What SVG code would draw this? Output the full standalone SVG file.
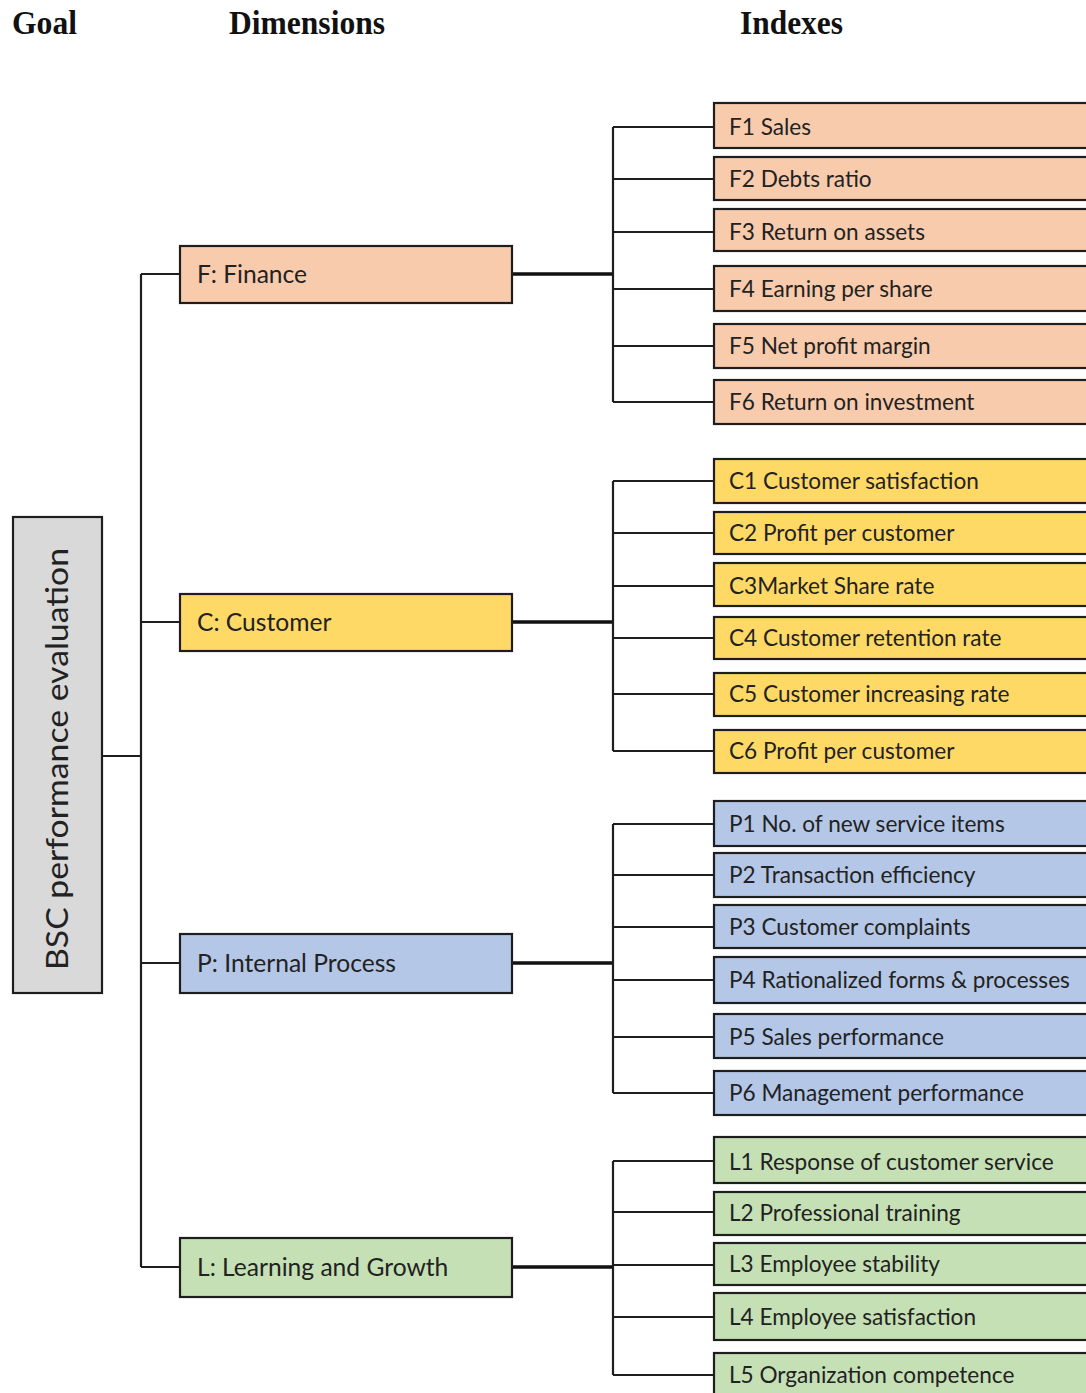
<svg xmlns="http://www.w3.org/2000/svg" width="1086" height="1393" viewBox="0 0 1086 1393">
  <style>
    .hdr { font-family: "Liberation Serif", "Times New Roman", serif; font-weight: bold; font-size: 34px; fill: #111; }
    .box { stroke: #1e1e1e; stroke-width: 2.2; }
    .goal { fill: #d9d9d9; }
    .fin { fill: #f8cbad; }
    .cus { fill: #ffd966; }
    .pro { fill: #b4c7e7; }
    .lrn { fill: #c5e0b4; }
    .lbl { font-family: Lato, "Open Sans", sans-serif; fill: #222; }
    .dim { font-size: 24.6px; }
    .idx { font-size: 22.6px; }
    .goaltxt { font-size: 30px; }
    .ln { stroke: #1e1e1e; stroke-width: 2.2; fill: none; }
    .thick { stroke: #111; stroke-width: 3.6; fill: none; }
  </style>

  <!-- column headings -->
  <g id="headings">
    <text class="hdr" x="12" y="34" textLength="65" lengthAdjust="spacingAndGlyphs">Goal</text>
    <text class="hdr" x="229" y="34" textLength="156" lengthAdjust="spacingAndGlyphs">Dimensions</text>
    <text class="hdr" x="740" y="34" textLength="103" lengthAdjust="spacingAndGlyphs">Indexes</text>
  </g>

  <!-- connectors -->
  <g id="connectors">
    <!-- goal to dimensions -->
    <path class="ln" d="M102 756 H141 M141 274 V1267 M141 274 H180 M141 622 H180 M141 963 H180 M141 1267 H180"/>
    <!-- dimensions to index bars -->
    <path class="thick" d="M512 274 H613 M512 622 H613 M512 963 H613 M512 1267 H613"/>
    <!-- finance indexes -->
    <path class="ln" d="M613 127 V402 M613 127 H714 M613 179 H714 M613 232 H714 M613 289 H714 M613 346 H714 M613 402 H714"/>
    <!-- customer indexes -->
    <path class="ln" d="M613 481 V751 M613 481 H714 M613 533 H714 M613 586 H714 M613 638 H714 M613 694 H714 M613 751 H714"/>
    <!-- internal process indexes -->
    <path class="ln" d="M613 824 V1093 M613 824 H714 M613 875 H714 M613 927 H714 M613 980 H714 M613 1037 H714 M613 1093 H714"/>
    <!-- learning indexes -->
    <path class="ln" d="M613 1161 V1375 M613 1161 H714 M613 1212 H714 M613 1265 H714 M613 1317 H714 M613 1375 H714"/>
  </g>

  <!-- goal -->
  <g id="goal">
    <rect class="box goal" x="13" y="517" width="89" height="476"/>
    <text class="lbl goaltxt" transform="translate(68 759) rotate(-90)" text-anchor="middle" textLength="422" lengthAdjust="spacingAndGlyphs">BSC performance evaluation</text>
  </g>

  <!-- dimensions -->
  <g id="dim-finance">
    <rect class="box fin" x="180" y="246" width="332" height="57"/>
    <text class="lbl dim" x="197" y="283">F: Finance</text>
  </g>
  <g id="dim-customer">
    <rect class="box cus" x="180" y="594" width="332" height="57"/>
    <text class="lbl dim" x="197" y="631">C: Customer</text>
  </g>
  <g id="dim-process">
    <rect class="box pro" x="180" y="934" width="332" height="59"/>
    <text class="lbl dim" x="197" y="972">P: Internal Process</text>
  </g>
  <g id="dim-learning">
    <rect class="box lrn" x="180" y="1238" width="332" height="59"/>
    <text class="lbl dim" x="197" y="1276">L: Learning and Growth</text>
  </g>

  <!-- finance indexes -->
  <g id="idx-f1"><rect class="box fin" x="714" y="103" width="380" height="45"/><text class="lbl idx" x="729" y="135">F1 Sales</text></g>
  <g id="idx-f2"><rect class="box fin" x="714" y="157" width="380" height="43"/><text class="lbl idx" x="729" y="187">F2 Debts ratio</text></g>
  <g id="idx-f3"><rect class="box fin" x="714" y="209" width="380" height="42"/><text class="lbl idx" x="729" y="240">F3 Return on assets</text></g>
  <g id="idx-f4"><rect class="box fin" x="714" y="266" width="380" height="45"/><text class="lbl idx" x="729" y="297">F4 Earning per share</text></g>
  <g id="idx-f5"><rect class="box fin" x="714" y="324" width="380" height="44"/><text class="lbl idx" x="729" y="354">F5 Net profit margin</text></g>
  <g id="idx-f6"><rect class="box fin" x="714" y="380" width="380" height="44"/><text class="lbl idx" x="729" y="410">F6 Return on investment</text></g>

  <!-- customer indexes -->
  <g id="idx-c1"><rect class="box cus" x="714" y="459" width="380" height="44"/><text class="lbl idx" x="729" y="489">C1 Customer satisfaction</text></g>
  <g id="idx-c2"><rect class="box cus" x="714" y="512" width="380" height="42"/><text class="lbl idx" x="729" y="541">C2 Profit per customer</text></g>
  <g id="idx-c3"><rect class="box cus" x="714" y="563" width="380" height="43"/><text class="lbl idx" x="729" y="594">C3Market Share rate</text></g>
  <g id="idx-c4"><rect class="box cus" x="714" y="617" width="380" height="42"/><text class="lbl idx" x="729" y="646">C4 Customer retention rate</text></g>
  <g id="idx-c5"><rect class="box cus" x="714" y="673" width="380" height="43"/><text class="lbl idx" x="729" y="702">C5 Customer increasing rate</text></g>
  <g id="idx-c6"><rect class="box cus" x="714" y="730" width="380" height="43"/><text class="lbl idx" x="729" y="759">C6 Profit per customer</text></g>

  <!-- internal process indexes -->
  <g id="idx-p1"><rect class="box pro" x="714" y="801" width="380" height="45"/><text class="lbl idx" x="729" y="832">P1 No. of new service items</text></g>
  <g id="idx-p2"><rect class="box pro" x="714" y="853" width="380" height="44"/><text class="lbl idx" x="729" y="883">P2 Transaction efficiency</text></g>
  <g id="idx-p3"><rect class="box pro" x="714" y="905" width="380" height="43"/><text class="lbl idx" x="729" y="935">P3 Customer complaints</text></g>
  <g id="idx-p4"><rect class="box pro" x="714" y="957" width="380" height="46"/><text class="lbl idx" x="729" y="988">P4 Rationalized forms &amp; processes</text></g>
  <g id="idx-p5"><rect class="box pro" x="714" y="1014" width="380" height="44"/><text class="lbl idx" x="729" y="1045">P5 Sales performance</text></g>
  <g id="idx-p6"><rect class="box pro" x="714" y="1071" width="380" height="44"/><text class="lbl idx" x="729" y="1101">P6 Management performance</text></g>

  <!-- learning and growth indexes -->
  <g id="idx-l1"><rect class="box lrn" x="714" y="1137" width="380" height="46"/><text class="lbl idx" x="729" y="1170">L1 Response of customer service</text></g>
  <g id="idx-l2"><rect class="box lrn" x="714" y="1192" width="380" height="43"/><text class="lbl idx" x="729" y="1221">L2 Professional training</text></g>
  <g id="idx-l3"><rect class="box lrn" x="714" y="1243" width="380" height="42"/><text class="lbl idx" x="729" y="1272">L3 Employee stability</text></g>
  <g id="idx-l4"><rect class="box lrn" x="714" y="1293" width="380" height="47"/><text class="lbl idx" x="729" y="1325">L4 Employee satisfaction</text></g>
  <g id="idx-l5"><rect class="box lrn" x="714" y="1353" width="380" height="60"/><text class="lbl idx" x="729" y="1383">L5 Organization competence</text></g>
</svg>
